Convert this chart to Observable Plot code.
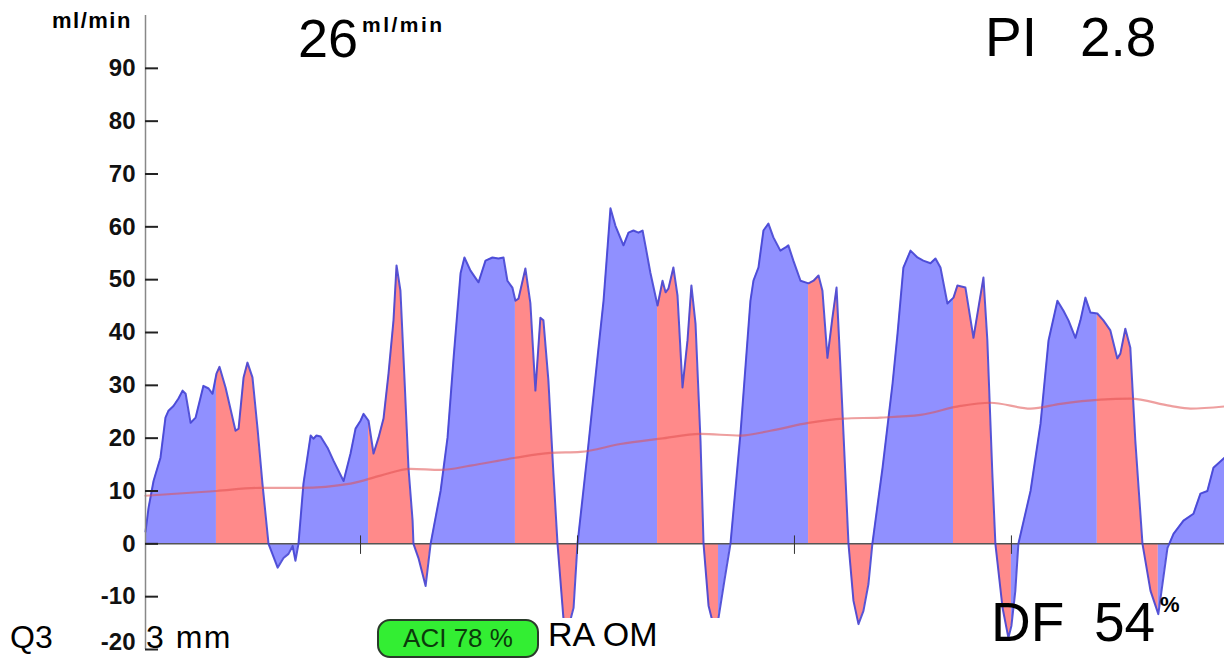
<!DOCTYPE html>
<html><head><meta charset="utf-8">
<script src="https://cdn.jsdelivr.net/npm/d3@7"></script>
<script src="https://cdn.jsdelivr.net/npm/@observablehq/plot@0.6"></script>
<style>
body{margin:0;background:#fff;}
#wrap{position:relative;width:1224px;height:659px;overflow:hidden;font-family:"Liberation Sans",Arial,Helvetica,sans-serif;}
#wrap svg{position:absolute;left:0;top:0;}
.t{position:absolute;white-space:nowrap;line-height:1;color:#000;}
g[aria-label="y-axis tick label"] text{font-weight:bold;}
</style></head><body><div id="wrap"></div>
<script>
// time (s) and flow (ml/min) of the Doppler trace
const time = [
0.009,0.023,0.046,0.078,0.101,0.115,0.138,0.161,0.180,0.194,
0.217,0.240,0.276,0.300,0.318,0.336,0.350,0.378,0.424,0.438,
0.461,0.479,0.502,0.525,0.548,0.576,0.618,0.645,0.668,0.687,
0.700,0.714,0.737,0.770,0.783,0.797,0.816,0.848,0.876,0.922,
0.954,0.977,1.000,1.014,1.037,1.060,1.083,1.106,1.129,1.152,
1.166,1.184,1.203,1.221,1.240,1.244,1.267,1.300,1.323,1.369,
1.401,1.429,1.461,1.479,1.507,1.544,1.576,1.608,1.636,1.659,
1.677,1.700,1.714,1.728,1.760,1.783,1.806,1.829,1.843,1.866,
1.889,1.908,1.935,1.954,1.982,2.000,2.046,2.092,2.120,2.134,
2.152,2.175,2.212,2.235,2.258,2.281,2.300,2.313,2.336,2.369,
2.392,2.406,2.419,2.442,2.461,2.484,2.507,2.525,2.544,2.567,
2.581,2.604,2.627,2.650,2.677,2.705,2.751,2.797,2.811,2.834,
2.857,2.880,2.903,2.935,2.959,2.972,2.995,3.028,3.065,3.088,
3.111,3.129,3.152,3.175,3.194,3.212,3.226,3.249,3.272,3.295,
3.318,3.341,3.359,3.406,3.452,3.475,3.502,3.535,3.567,3.594,
3.627,3.650,3.673,3.705,3.733,3.751,3.788,3.825,3.848,3.871,
3.889,3.912,3.926,3.959,3.986,4.000,4.018,4.032,4.088,4.134,
4.171,4.212,4.240,4.263,4.295,4.318,4.341,4.364,4.396,4.424,
4.456,4.488,4.502,4.525,4.548,4.571,4.604,4.641,4.677,4.719,
4.747,4.793,4.839,4.871,4.903,4.931,4.982];
const flow = [
2.3,6.8,11.9,16.3,23.9,25.2,26.1,27.5,29.0,28.4,
22.9,23.9,29.9,29.4,28.4,32.2,33.5,29.6,21.4,21.8,
31.5,34.3,31.5,22.0,11.4,0,-4.5,-2.7,-1.9,-0.4,
-3.2,0,11.4,20.5,19.9,20.5,20.3,18.2,15.7,11.9,
17.1,21.8,23.3,24.6,23.3,17.1,20.1,23.7,32.2,42.3,
52.7,47.9,30.9,14.4,4.4,0,-2.7,-8.0,0,10.0,
20.1,35.2,51.2,54.2,51.7,49.5,53.6,54.2,54.0,54.2,
49.8,48.5,46.0,46.4,52.1,45.5,29.0,42.8,42.3,30.9,
13.3,0,-14.0,-16.5,-12.1,0,17.1,35.2,46.0,53.6,
63.5,60.2,56.5,58.9,59.3,58.9,59.3,56.5,51.3,45.1,
49.8,47.6,48.3,52.3,47.0,29.6,38.5,48.9,41.7,19.5,
0,-11.7,-15.5,-14.0,-7.0,0,20.8,46.0,49.8,52.3,
59.3,60.6,58.0,55.5,56.1,56.5,53.6,49.8,49.3,49.8,
50.8,47.9,35.2,42.8,48.5,33.3,20.8,0,-10.8,-15.2,
-12.7,-7.6,0,14.4,30.3,39.8,52.3,55.5,54.2,53.6,
53.1,54.0,52.3,45.5,46.6,48.9,48.5,39.0,44.7,50.4,
38.5,13.3,0,-12.1,-17.8,-15.5,-8.9,0,10.0,22.7,
38.5,46.0,44.1,42.3,39.0,42.3,46.6,43.8,43.6,42.3,
40.4,35.1,36.0,40.7,37.1,19.5,0,-8.9,-13.3,-0.8,
1.9,4.4,5.7,9.5,10.0,14.4,16.3];
// times where the fill switches between systolic (blue) and diastolic (red) phases
const phaseBreaks = [0.336,0.576,1.037,1.323,1.714,2.000,2.369,2.650,3.065,3.359,3.733,4.000,4.396,4.677];
const phaseNames = ["systole","diastole"];
// running mean flow
const meanTime = [0.009,0.336,0.539,0.724,0.954,1.092,1.230,1.369,1.507,1.714,1.876,2.014,2.198,2.382,2.567,2.751,2.889,3.065,3.226,3.396,3.581,3.765,3.903,4.088,4.226,4.410,4.548,4.733,4.825,4.982];
const meanFlow = [9.1,10.0,10.6,10.6,11.4,12.9,14.2,14.0,14.8,16.3,17.2,17.4,18.9,19.9,20.8,20.5,21.4,22.9,23.7,23.9,24.4,26.1,26.7,25.6,26.5,27.3,27.5,26.1,25.6,26.0];
const yTicks = [-20,-10,0,10,20,30,40,50,60,70,80,90];
const timeTicks = [1,2,3,4];
const xDomain = [0.009, 4.982];
const yDomain = [-20, 100];

const W = 1224, H = 659, ML = 145, MT = 15, MB = 10;

const pts = time.map((t, i) => ({t, v: flow[i]}));
const edges = [time[0], ...phaseBreaks, time[time.length - 1]];
const segs = [];
for (let k = 0; k < edges.length - 1; k++) {
  for (const p of pts) {
    if (p.t >= edges[k] && p.t <= edges[k + 1]) segs.push({t: p.t, v: p.v, seg: k, phase: phaseNames[k % 2]});
  }
}
const mean = meanTime.map((t, i) => ({t, v: meanFlow[i]}));
const bottomTick = yTicks.filter(d => d === yDomain[0]);
const otherTicks = yTicks.filter(d => d !== yDomain[0]);
const labelStyle = {anchor: "left", tickSize: 0, tickPadding: 10, tickFormat: d => String(d), fontSize: 24, fontWeight: "bold", fill: "#111", label: null};

const chart = Plot.plot({
  width: W, height: H,
  marginLeft: ML, marginRight: 0, marginTop: MT, marginBottom: MB,
  x: {domain: xDomain, axis: null},
  y: {domain: yDomain, axis: null},
  color: {domain: phaseNames, range: ["#9090ff", "#ff8a8a"]},
  style: {background: "transparent", overflow: "visible", fontFamily: "'Liberation Sans', Arial, sans-serif"},
  marks: [
    Plot.areaY(segs, {x: "t", y1: 0, y2: "v", z: "seg", fill: "phase", curve: "linear"}),
    Plot.ruleY([0], {stroke: "#555", strokeWidth: 1.5}),
    Plot.line(pts, {x: "t", y: "v", stroke: "#4444d4", strokeWidth: 2, strokeOpacity: 0.9, strokeLinejoin: "round"}),
    Plot.line(mean, {x: "t", y: "v", stroke: "#e05050", strokeOpacity: 0.55, strokeWidth: 2.2, curve: "monotone-x"}),
    Plot.ruleX(timeTicks, {x: d => d, y1: 1.5, y2: -2, stroke: "#333", strokeWidth: 1}),
    Plot.ruleX([xDomain[0]], {x: d => d, stroke: "#888", strokeWidth: 1.5}),
    Plot.ruleY(yTicks, {y: d => d, insetRight: W - ML - 13, stroke: "#222", strokeWidth: 2}),
    Plot.axisY(otherTicks, labelStyle),
    Plot.axisY(bottomTick, {...labelStyle, dy: -7})
  ]
});
const wrap = document.getElementById("wrap");
wrap.appendChild(chart);

function addText(txt, left, top, size, extra) {
  const d = document.createElement("div");
  d.className = "t";
  d.textContent = txt;
  d.style.left = left + "px";
  d.style.top = top + "px";
  d.style.fontSize = size + "px";
  if (extra) Object.assign(d.style, extra);
  wrap.appendChild(d);
  return d;
}
// white patch behind the bottom-middle label
const patch = document.createElement("div");
Object.assign(patch.style, {position: "absolute", left: "540px", top: "618px", width: "262px", height: "41px", background: "#fff"});
wrap.appendChild(patch);

addText("ml/min", 52, 10, 22, {fontWeight: "bold", letterSpacing: "1.5px"});
addText("26", 298, 11, 54);
addText("ml/min", 362, 14, 21, {fontWeight: "bold", letterSpacing: "2.5px"});
addText("PI", 985, 10, 55);
addText("2.8", 1080, 10, 55);
addText("Q3", 10, 621, 32);
addText("3 mm", 146, 621, 32, {letterSpacing: "1.5px"});
addText("RA OM", 548, 617, 34);
addText("DF", 991, 595, 55);
addText("54", 1094, 595, 55);
addText("%", 1160, 594, 22, {fontWeight: "bold"});

const pill = document.createElement("div");
Object.assign(pill.style, {position: "absolute", left: "377px", top: "619px", width: "158px", height: "35px",
  background: "#33ee33", border: "2px solid #2a3a2a", borderRadius: "13px", color: "#0b3a0b",
  fontFamily: "'Liberation Sans Narrow', 'Liberation Sans', Arial, sans-serif", fontSize: "26px",
  lineHeight: "35px", textAlign: "center", whiteSpace: "nowrap"});
pill.textContent = "ACI 78 %";
wrap.appendChild(pill);
</script>
</body></html>
